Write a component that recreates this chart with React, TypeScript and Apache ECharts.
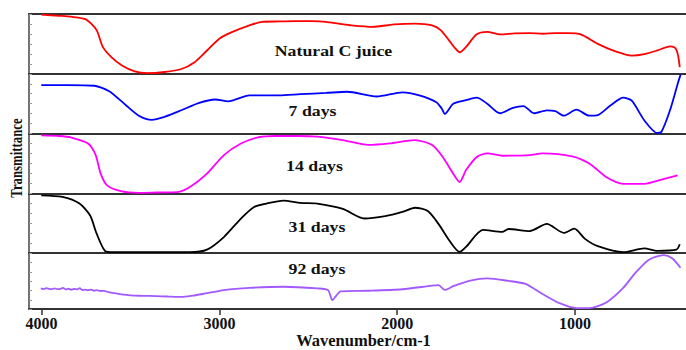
import React, { useEffect, useRef } from "react";
import * as echarts from "echarts";

// ---- Data (wavenumber cm-1, relative transmittance within each panel 0-100) ----
const panelLabels = ["Natural C juice", "7 days", "14 days", "31 days", "92 days"];
const panelColors = ["#ff0000", "#0000ff", "#ff00ff", "#000000", "#a259ff"];
const xTickValues = [1000, 2000, 3000, 4000];

const juiceWn = [4002, 3900, 3835, 3751, 3691, 3656, 3608, 3548, 3476, 3405, 3309, 3214, 3142, 3070, 2999, 2927, 2831, 2760, 2660, 2569, 2480, 2401, 2330, 2258, 2138, 2019, 1900, 1804, 1756, 1709, 1675, 1649, 1613, 1553, 1494, 1422, 1340, 1255, 1180, 1111, 1040, 968, 872, 777, 681, 610, 538, 466, 440, 430, 420, 411];
const juiceT = [99, 97, 95.5, 91, 73, 45, 28, 14, 4, 1, 3, 8, 19, 39, 59, 70, 81, 87, 87.5, 88, 88, 87, 84, 81, 78.5, 82.5, 84, 81, 73, 56, 43, 36, 45, 66, 70, 66, 67.5, 68, 67, 68, 68, 66, 50, 38, 30.5, 33, 39, 46, 44, 40, 30, 11];

const d7Wn = [4002, 3850, 3703, 3620, 3524, 3453, 3381, 3309, 3214, 3118, 3023, 2951, 2831, 2664, 2545, 2401, 2282, 2115, 1971, 1876, 1780, 1750, 1732, 1685, 1613, 1553, 1494, 1422, 1350, 1290, 1231, 1159, 1111, 1063, 992, 920, 872, 801, 729, 681, 610, 538, 514, 466, 423, 406];
const d7T = [81, 81, 80, 71, 47, 30, 23, 28, 39, 51, 57, 54, 64, 64, 66, 68, 70, 62, 69, 64, 52.5, 42, 33, 50, 56, 60, 50, 34, 43, 46, 34, 39, 37.5, 30, 40, 30, 31, 47, 60, 55, 22, 1, 3, 39, 83, 99];

const d14Wn = [4002, 3900, 3835, 3739, 3696, 3668, 3632, 3548, 3452, 3350, 3237, 3166, 3070, 2975, 2879, 2784, 2688, 2560, 2449, 2306, 2162, 2043, 1900, 1804, 1744, 1685, 1649, 1613, 1553, 1494, 1398, 1255, 1183, 1016, 920, 825, 729, 610, 514, 423];
const d14T = [97, 96, 93.5, 83.5, 64, 33, 13.5, 3.4, 1, 1.5, 2, 10.6, 33, 64, 83.5, 93.5, 96, 96, 95, 89, 81, 83.5, 89, 81, 61, 33, 19, 39, 61, 67, 63, 64, 67, 62, 50, 27.5, 16, 16, 23, 30];

const d31Wn = [4002, 3883, 3787, 3727, 3691, 3644, 3596, 3400, 3166, 3070, 2975, 2879, 2807, 2736, 2640, 2545, 2449, 2306, 2186, 2067, 1971, 1900, 1828, 1768, 1709, 1649, 1613, 1518, 1410, 1374, 1255, 1159, 1063, 1004, 944, 872, 729, 610, 538, 430, 411];
const d31T = [96.7, 94, 83, 63, 33, 4, 1.7, 1.7, 1.7, 6, 27, 58, 77, 83, 88, 84, 83, 74, 58, 62, 69, 76, 70.5, 49, 22, 2, 10.5, 39, 35.5, 40.5, 37, 49, 34, 41, 24, 11.7, 1.7, 8, 4, 6, 15];

const d92Wn = [4005, 3990, 3972, 3958, 3940, 3928, 3910, 3893, 3880, 3862, 3850, 3835, 3818, 3800, 3786, 3770, 3757, 3740, 3722, 3705, 3690, 3670, 3650, 3620, 3580, 3540, 3500, 3430, 3357, 3290, 3214, 3150, 3094, 2975, 2831, 2640, 2449, 2389, 2365, 2349, 2318, 2162, 1971, 1804, 1768, 1732, 1685, 1589, 1494, 1374, 1279, 1183, 1087, 992, 920, 825, 729, 657, 586, 502, 454, 407];
const d92T = [37, 36, 37.5, 36.2, 35.6, 37, 35.8, 36.4, 38, 35.2, 36.8, 34.6, 36, 35.2, 37.4, 34.2, 35, 33.6, 35, 32.8, 33.8, 32.4, 32.5, 30, 28, 26, 24.4, 23.8, 23.3, 22.5, 21.7, 24, 27, 34, 38, 40, 37, 34, 16, 21.7, 31.7, 32.8, 35.5, 42, 42.8, 34.4, 41, 51, 55, 50.5, 45, 27, 10.6, 1.7, 1.7, 11.7, 38, 66, 88, 96.7, 91, 74];

const seriesWn = [juiceWn, d7Wn, d14Wn, d31Wn, d92Wn];
const seriesT = [juiceT, d7T, d14T, d31T, d92T];

const X_MIN = 376;
const X_MAX = 4071;

export default function App() {
  const ref = useRef<HTMLDivElement>(null);

  useEffect(() => {
    if (!ref.current) return;
    const chart = echarts.init(ref.current, undefined, { renderer: "svg" });

    const top0 = 14;
    const ph = 59.8;
    const grids: any[] = [];
    const xAxes: any[] = [];
    const yAxes: any[] = [];
    const series: any[] = [];
    const serif = "'Liberation Serif', 'Times New Roman', serif";

    for (let i = 0; i < 5; i++) {
      const isLast = i === 4;
      grids.push({ left: 29, right: 0, top: top0 + i * ph, height: ph });
      xAxes.push({
        type: "value",
        gridIndex: i,
        position: "bottom",
        min: X_MIN,
        max: X_MAX,
        inverse: true,
        splitLine: { show: false },
        axisLine: { show: true, onZero: false, lineStyle: { color: "#333", width: 2 } },
        axisTick: isLast
          ? { show: true, inside: false, length: 6, customValues: xTickValues, lineStyle: { color: "#333", width: 1.5 } }
          : { show: false },
        axisLabel: isLast
          ? {
              show: true,
              customValues: xTickValues,
              formatter: (v: number) => String(Math.round(v)),
              margin: 6,
              color: "#111",
              fontFamily: serif,
              fontWeight: "bold",
              fontSize: 16,
            }
          : { show: false },
        name: isLast ? "Wavenumber/cm-1" : "",
        nameLocation: "middle",
        nameGap: 21,
        nameTextStyle: { color: "#111", fontFamily: serif, fontWeight: "bold", fontSize: 16.5, padding: [0, 0, 0, 12] },
      });
      yAxes.push({
        type: "value",
        gridIndex: i,
        min: 0,
        max: 100,
        interval: 100 / 6,
        splitLine: { show: false },
        axisLine: { show: true, lineStyle: { color: "#444", width: 1.5 } },
        axisTick: { show: true, inside: true, length: 3, lineStyle: { color: "#999", width: 1 } },
        axisLabel: { show: false },
      });
      series.push({
        type: "line",
        xAxisIndex: i,
        yAxisIndex: i,
        data: seriesWn[i].map((w, k) => [w, seriesT[i][k]]),
        showSymbol: false,
        smooth: 0.25,
        clip: false,
        lineStyle: { color: panelColors[i], width: 1.8 },
      });
    }
    // top frame line
    xAxes.push({
      type: "value",
      gridIndex: 0,
      position: "top",
      min: X_MIN,
      max: X_MAX,
      inverse: true,
      splitLine: { show: false },
      axisLine: { show: true, onZero: false, lineStyle: { color: "#333", width: 2 } },
      axisTick: { show: false },
      axisLabel: { show: false },
    });

    const labelPos = [
      [333.5, 50.7],
      [312.5, 111.3],
      [314.5, 165.7],
      [317, 227.3],
      [317, 269.3],
    ];
    const graphics: any[] = panelLabels.map((t, i) => ({
      type: "text",
      x: labelPos[i][0],
      y: labelPos[i][1],
      scaleX: 1.27,
      style: {
        text: t,
        fill: "#111",
        font: `bold 14px ${serif}`,
        textAlign: "center",
        textVerticalAlign: "middle",
      },
    }));
    graphics.push({
      type: "text",
      x: 16,
      y: 158,
      rotation: Math.PI / 2,
      scaleX: 0.8,
      style: {
        text: "Transmittance",
        fill: "#111",
        font: `bold 16px ${serif}`,
        textAlign: "center",
        textVerticalAlign: "middle",
      },
    });

    chart.setOption({
      animation: false,
      backgroundColor: "#ffffff",
      grid: grids,
      xAxis: xAxes,
      yAxis: yAxes,
      series,
      graphic: graphics,
    });

    return () => chart.dispose();
  }, []);

  return (
    <div
      ref={ref}
      style={{ position: "fixed", left: 0, top: 0, width: 686, height: 350 }}
    />
  );
}
